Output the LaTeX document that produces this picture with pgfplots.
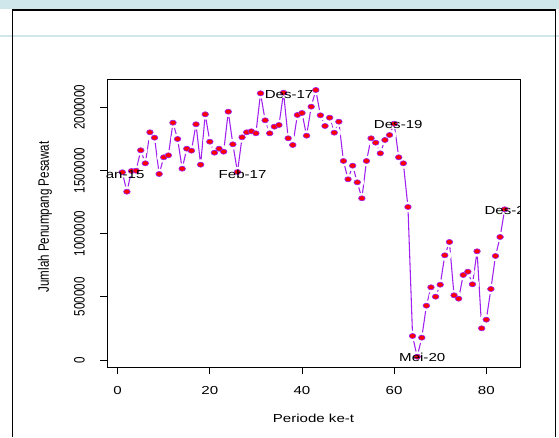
\documentclass[border=0pt]{standalone}
\usepackage{fontspec}
\setmainfont{Liberation Sans}[FakeStretch=1.3]
\newfontfamily\rotfont{Liberation Sans}
\usepackage{graphicx}
\usepackage{pgfplots}
\usepackage{pgfplotstable}
\pgfplotsset{compat=1.18}
\definecolor{rpurple}{HTML}{A020F0}
\definecolor{slidecyan}{RGB}{207,231,235}
\newcommand\ylab[1]{\scalebox{1}[1.3]{\rotfont #1}}

\pgfplotstableread{
t v
1 1485300
2 1331800
3 1495600
4 1497900
5 1659400
6 1556500
7 1801800
8 1759100
9 1471800
10 1604000
11 1619800
12 1877700
13 1748800
14 1513800
15 1672000
16 1656200
17 1865100
18 1545400
19 1944200
20 1727400
21 1640400
22 1672000
23 1648300
24 1964800
25 1706800
26 1487600
27 1762200
28 1801800
29 1809700
30 1793900
31 2110400
32 1896700
33 1793900
34 1846100
35 1859600
36 2115100
37 1754300
38 1701300
39 1938700
40 1954500
41 1774900
42 2004400
43 2136500
44 1936300
45 1851600
46 1917300
47 1798600
48 1885700
49 1574700
50 1429900
51 1537500
52 1406100
53 1279500
54 1574700
55 1754300
56 1719500
57 1635600
58 1740900
59 1780400
60 1869800
61 1604000
62 1556500
63 1210700
64 189900
65 26100
66 176500
67 429700
68 575300
69 500900
70 595800
71 828500
72 933700
73 512000
74 485100
75 672600
76 698700
77 599000
78 860100
79 250800
80 318900
81 561800
82 823000
83 973300
84 1192500
}\datatable

\pgfplotstableread{
t v lab
0.8 1463900 Jan-15
27.1 1469400 Feb-17
37.2 2097000 Des-17
60.9 1865100 Des-19
66.1 23700 Mei-20
84.9 1179000 Des-21
}\labtable

\begin{document}
\begin{tikzpicture}[font=\fontsize{8.7pt}{10pt}\selectfont]
\begin{scope}[x=0.75pt,y=-0.75pt,shift={(-107,-367)}]
 \fill[white] (0,0) rectangle (559,437);
 \fill[slidecyan] (0,0) rectangle (559,9.5);
 \fill[slidecyan] (0,34.7) rectangle (559,37.3);
 \draw[black, line width=0.8pt] (12.5,437) -- (12.5,10) -- (555.5,10) -- (555.5,437);
\end{scope}
\begin{axis}[
  at={(0,0)}, anchor=south west,
  scale only axis, width=309.75pt, height=216pt,
  xmin=-2.32, xmax=87.32, ymin=-55400, ymax=2223500,
  scaled y ticks=false, scaled x ticks=false,
  clip marker paths=true,
  axis line style={black, line width=0.6pt},
  xtick={0,20,40,60,80}, xticklabels={0,20,40,60,80},
  ytick={0,500000,1000000,1500000,2000000},
  yticklabels={\ylab{0},\ylab{500000},\ylab{1000000},\ylab{1500000},\ylab{2000000}},
  xtick pos=bottom, ytick pos=left,
  tick align=outside, major tick length=5.4pt,
  tick style={black, line width=0.6pt},
  xticklabel style={anchor=center, yshift=-12pt},
  yticklabel style={xshift=-15.2pt, rotate=90, anchor=center},
  every axis x label/.style={at={(rel axis cs:0.5,0)}, yshift=-38.25pt, anchor=center},
  every axis y label/.style={at={(rel axis cs:0,0.5)}, xshift=-46.5pt, yshift=4.5pt, rotate=90, anchor=center},
  xlabel={Periode ke-t},
  ylabel={\ylab{Jumlah Penumpang Pesawat}},
]
\addplot[rpurple, line width=0.8pt, mark=none] table[x=t,y=v]{\datatable};
\addplot[only marks, mark=*, mark size=3.75pt, mark options={fill=white, draw=white, xscale=1.3}] table[x=t,y=v]{\datatable};
\addplot[only marks, mark=*, mark size=1.9pt, mark options={fill=red, draw=rpurple, line width=0.5pt, xscale=1.3}] table[x=t,y=v]{\datatable};
\addplot[draw=none, nodes near coords, point meta=explicit symbolic,
  every node near coord/.append style={anchor=center, black, inner sep=0pt}]
  table[x=t,y=v,meta=lab]{\labtable};
\end{axis}
\end{tikzpicture}
\end{document}
